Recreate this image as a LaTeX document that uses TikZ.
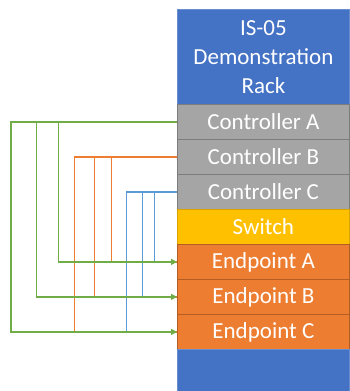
\documentclass[tikz,border=0pt]{standalone}
\usepackage{fontspec}
\setmainfont{Carlito}
\usepackage{tikz}
\usetikzlibrary{positioning,arrows.meta}
\definecolor{rackblue}{HTML}{4472C4}
\definecolor{ctrlgrey}{HTML}{A5A5A5}
\definecolor{switchgold}{HTML}{FFC000}
\definecolor{eporange}{HTML}{ED7D31}
\definecolor{linkgreen}{HTML}{70AD47}
\definecolor{linkorange}{HTML}{ED7D31}
\definecolor{linkblue}{HTML}{5B9BD5}

\begin{document}
\begin{tikzpicture}[
  x=1pt, y=-1pt,
  font=\fontsize{23}{29}\selectfont,
  unit/.style  = {minimum width=172pt, minimum height=35pt, inner sep=0pt,
                  anchor=north west, text=white, line width=0.8pt},
  ctrl/.style  = {unit, fill=ctrlgrey, draw=ctrlgrey!75!black},
  sw/.style    = {unit, fill=switchgold, draw=switchgold!85!black},
  ep/.style    = {unit, fill=eporange, draw=eporange!75!black},
  head/.style  = {unit, fill=rackblue, draw=rackblue!80!white, align=center,
                  minimum height=95pt},
  link/.style  = {line width=1.4pt, -{Triangle[length=6pt,width=6pt]}},
]
\useasboundingbox (0,0) rectangle (349,391);

% ---- rack ----------------------------------------------------------
\node[head] at (177,9) (title) {IS-05\\Demonstration\\Rack};
\node[ctrl] at (177,104) (ctrlA) {Controller A};
\node[ctrl] at (177,139) (ctrlB) {Controller B};
\node[ctrl] at (177,174) (ctrlC) {Controller C};
\node[sw]   at (177,209) (switch) {Switch};
\node[ep]   at (177,244) (epA) {Endpoint A};
\node[ep]   at (177,279) (epB) {Endpoint B};
\node[ep]   at (177,314) (epC) {Endpoint C};
\node[unit, fill=rackblue, draw=rackblue!80!white, minimum height=45pt]
  at (177,349) (base) {};

% ---- connections: controller -> each endpoint ------------------------
\foreach \d/\ep in {22.3/epA, 34.3/epB, 50.3/epC}
  \draw[link, draw=linkblue, -] (ctrlC.west) -- ++(-\d,0) |- (\ep.west);
\foreach \d/\ep in {65.3/epA, 82.7/epB, 102.7/epC}
  \draw[link, draw=linkorange, -] (ctrlB.west) -- ++(-\d,0) |- (\ep.west);
\foreach \d/\ep in {118.3/epA, 140.3/epB, 166/epC}
  \draw[link, draw=linkgreen] (ctrlA.west) -- ++(-\d,0) |- (\ep.west);

\end{tikzpicture}
\end{document}
